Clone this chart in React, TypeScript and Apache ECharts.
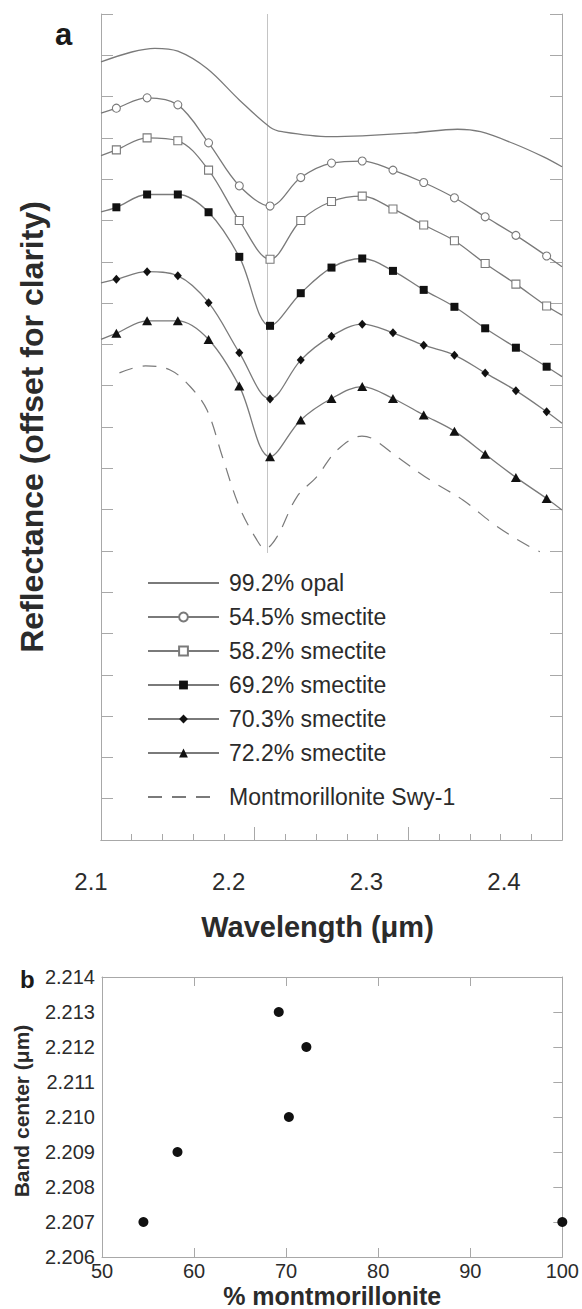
import React, { useEffect, useRef } from "react";
import * as echarts from "echarts";

const FONT = '"Liberation Sans", Arial, Helvetica, sans-serif';
const TXT = "#2b2b2b";
const AXIS = "#a8a8a8";
const LINE = "#7a7a7a";

// ---------- panel a ----------
const waveTicks = [2.1, 2.2, 2.3, 2.4];
const lineX = [2.10, 2.11, 2.13, 2.15, 2.17, 2.19, 2.21, 2.23, 2.25, 2.27, 2.29, 2.31, 2.33, 2.35, 2.37, 2.39, 2.40];

const seriesNames = [
  "99.2% opal",
  "54.5% smectite",
  "58.2% smectite",
  "69.2% smectite",
  "70.3% smectite",
  "72.2% smectite",
  "Montmorillonite Swy-1",
];

const opalX = [2.10, 2.12, 2.135, 2.15, 2.169, 2.19, 2.21, 2.218, 2.249, 2.27, 2.303, 2.332, 2.347, 2.368, 2.388, 2.40];
const opalY = [18.84, 19.08, 19.17, 19.10, 18.68, 17.92, 17.26, 17.15, 17.03, 17.05, 17.12, 17.21, 17.15, 16.87, 16.54, 16.30];

const smec545 = [17.60, 17.72, 17.97, 17.80, 16.88, 15.84, 15.35, 16.04, 16.39, 16.44, 16.22, 15.92, 15.55, 15.09, 14.64, 14.14, 13.88];
const smec582 = [16.57, 16.71, 17.00, 16.93, 16.22, 15.00, 14.06, 15.00, 15.46, 15.59, 15.28, 14.89, 14.51, 13.96, 13.46, 12.93, 12.71];
const smec692 = [15.21, 15.32, 15.63, 15.63, 15.20, 14.12, 12.45, 13.24, 13.86, 14.08, 13.78, 13.32, 12.91, 12.39, 11.92, 11.46, 11.22];
const smec703 = [13.49, 13.58, 13.76, 13.66, 13.01, 11.80, 10.68, 11.62, 12.20, 12.49, 12.28, 11.98, 11.74, 11.31, 10.88, 10.37, 10.09];
const smec722 = [12.12, 12.27, 12.57, 12.57, 12.12, 10.99, 9.28, 10.17, 10.69, 10.98, 10.69, 10.29, 9.90, 9.34, 8.78, 8.27, 7.99];

const swyX = [2.112, 2.129, 2.145, 2.158, 2.169, 2.179, 2.190, 2.2015, 2.2067, 2.2145, 2.2275, 2.2405, 2.2536, 2.2698, 2.277, 2.2926, 2.314, 2.3355, 2.3577, 2.379, 2.3856];
const swyY = [11.31, 11.48, 11.38, 10.98, 10.41, 9.28, 8.07, 7.26, 7.05, 7.34, 8.31, 8.80, 9.44, 9.78, 9.71, 9.28, 8.72, 8.23, 7.59, 7.10, 6.98];

const bandLineX = 2.208;
const bandLineYTop = 20;
const bandLineYBottom = 6.95;

// ---------- panel b ----------
const montPct = [54.5, 58.2, 69.2, 70.3, 72.2, 100];
const bandCenter = [2.207, 2.209, 2.213, 2.210, 2.212, 2.207];

function markedSeries(name: string, vals: number[], symbol: string, size: any, filled: boolean) {
  return {
    type: "line",
    name,
    xAxisIndex: 0,
    yAxisIndex: 0,
    smooth: 0.35,
    symbol,
    symbolSize: size,
    showSymbol: true,
    lineStyle: { color: LINE, width: 1.3 },
    itemStyle: filled
      ? { color: "#111", borderWidth: 0 }
      : { color: "#fff", borderColor: LINE, borderWidth: 1.1 },
    data: lineX.map((x, i) =>
      i === 0 || i === lineX.length - 1 ? { value: [x, vals[i]], symbol: "none" } : [x, vals[i]]
    ),
    z: 3,
  };
}

const noMarker = { color: "rgba(0,0,0,0)", borderColor: "rgba(0,0,0,0)", borderWidth: 0 };

export default function App() {
  const ref = useRef<HTMLDivElement>(null);
  useEffect(() => {
    if (!ref.current) return;
    const chart = echarts.init(ref.current, undefined, { renderer: "svg" });
    chart.setOption({
      animation: false,
      backgroundColor: "#fff",
      textStyle: { fontFamily: FONT },
      title: [
        { text: "a", left: 55, top: 19, padding: 0, textStyle: { fontSize: 31, fontWeight: "bold", color: "#1a1a1a", fontFamily: FONT } },
        { text: "b", left: 20, top: 967, padding: 0, textStyle: { fontSize: 24, fontWeight: "bold", color: "#1a1a1a", fontFamily: FONT } },
      ],
      grid: [
        { left: 101, top: 14, width: 461, height: 826 },
        { left: 91, top: 14, width: 413, height: 826 },
        { left: 102, top: 977, width: 461, height: 280 },
      ],
      legend: [
        {
          data: [
            { name: seriesNames[0], itemStyle: noMarker },
            ...seriesNames.slice(1, 6),
          ],
          orient: "vertical",
          left: 147,
          top: 571,
          padding: 0,
          itemWidth: 71,
          itemHeight: 11,
          itemGap: 10,
          textStyle: { fontSize: 23, lineHeight: 24, color: TXT, fontFamily: FONT, padding: [0, 0, 0, 5] },
        },
        {
          data: [{ name: seriesNames[6], itemStyle: noMarker }],
          orient: "vertical",
          left: 147,
          top: 785,
          padding: 0,
          itemWidth: 71,
          itemHeight: 11,
          textStyle: { fontSize: 23, lineHeight: 24, color: TXT, fontFamily: FONT, padding: [0, 0, 0, 5] },
        },
      ],
      xAxis: [
        {
          gridIndex: 0, type: "value", position: "bottom", min: 2.1, max: 2.4, interval: 0.1,
          axisLine: { show: true, lineStyle: { color: AXIS, width: 1 } },
          axisTick: { show: true, inside: true, length: 13, lineStyle: { color: AXIS } },
          minorTick: { show: true, splitNumber: 5, length: 6, lineStyle: { color: AXIS } },
          axisLabel: { show: false },
          splitLine: { show: false },
          name: "Wavelength (μm)", nameLocation: "middle", nameGap: 72,
          nameTextStyle: { fontSize: 29, fontWeight: "bold", color: TXT, fontFamily: FONT, padding: [0, 28, 0, 0] },
        },
        {
          gridIndex: 0, type: "value", position: "top", min: 2.1, max: 2.4,
          axisLine: { show: true, lineStyle: { color: AXIS, width: 1 } },
          axisTick: { show: false }, axisLabel: { show: false }, splitLine: { show: false },
        },
        {
          gridIndex: 1, type: "value", position: "bottom", min: 2.1, max: 2.4, interval: 0.1,
          axisLine: { show: false }, axisTick: { show: false }, splitLine: { show: false },
          axisLabel: { show: true, fontSize: 24, color: TXT, margin: 29, fontFamily: FONT, formatter: (v: number) => v.toFixed(1) },
        },
        {
          gridIndex: 2, type: "value", position: "bottom", min: 50, max: 100, interval: 10,
          axisLine: { show: true, lineStyle: { color: AXIS, width: 1 } },
          axisTick: { show: true, inside: true, length: 9, lineStyle: { color: AXIS } },
          axisLabel: { show: true, fontSize: 20, color: TXT, margin: 4, fontFamily: FONT },
          splitLine: { show: false },
          name: "% montmorillonite", nameLocation: "middle", nameGap: 26,
          nameTextStyle: { fontSize: 25, fontWeight: "bold", color: TXT, fontFamily: FONT },
        },
        {
          gridIndex: 2, type: "value", position: "top", min: 50, max: 100, interval: 10,
          axisLine: { show: true, lineStyle: { color: AXIS, width: 1 } },
          axisTick: { show: true, inside: true, length: 9, lineStyle: { color: AXIS } },
          axisLabel: { show: false }, splitLine: { show: false },
        },
      ],
      yAxis: [
        {
          gridIndex: 0, type: "value", position: "left", min: 0, max: 20, interval: 1,
          axisLine: { show: true, lineStyle: { color: AXIS, width: 1 } },
          axisTick: { show: true, inside: true, length: 12, lineStyle: { color: AXIS } },
          axisLabel: { show: false }, splitLine: { show: false },
          name: "Reflectance (offset for clarity)", nameLocation: "middle", nameGap: 53,
          nameTextStyle: { fontSize: 32, fontWeight: "bold", color: TXT, fontFamily: FONT },
        },
        {
          gridIndex: 0, type: "value", position: "right", min: 0, max: 20, interval: 1,
          axisLine: { show: true, lineStyle: { color: AXIS, width: 1 } },
          axisTick: { show: true, inside: true, length: 12, lineStyle: { color: AXIS } },
          axisLabel: { show: false }, splitLine: { show: false },
        },
        {
          gridIndex: 1, type: "value", min: 0, max: 1, show: false,
          axisLine: { show: false }, axisTick: { show: false }, axisLabel: { show: false }, splitLine: { show: false },
        },
        {
          gridIndex: 2, type: "value", position: "left", min: 2.206, max: 2.214, interval: 0.001,
          axisLine: { show: true, lineStyle: { color: AXIS, width: 1 } },
          axisTick: { show: false },
          axisLabel: { show: true, fontSize: 20, color: TXT, margin: 7, fontFamily: FONT, formatter: (v: number) => v.toFixed(3) },
          splitLine: { show: false },
          name: "Band center (μm)", nameLocation: "middle", nameGap: 70,
          nameTextStyle: { fontSize: 21, fontWeight: "bold", color: TXT, fontFamily: FONT, padding: [0, 0, 0, 12] },
        },
        {
          gridIndex: 2, type: "value", position: "right", min: 2.206, max: 2.214, interval: 0.001,
          axisLine: { show: true, lineStyle: { color: AXIS, width: 1 } },
          axisTick: { show: true, inside: true, length: 9, lineStyle: { color: AXIS } },
          axisLabel: { show: false }, splitLine: { show: false },
        },
      ],
      series: [
        {
          type: "line",
          name: seriesNames[0],
          xAxisIndex: 0,
          yAxisIndex: 0,
          smooth: 0.35,
          symbol: "none",
          lineStyle: { color: LINE, width: 1.3 },
          itemStyle: { color: LINE },
          data: opalX.map((x, i) => [x, opalY[i]]),
          z: 3,
          markLine: {
            silent: true,
            symbol: "none",
            label: { show: false },
            lineStyle: { color: "#c4c4c4", width: 1, type: "solid" },
            data: [[{ coord: [bandLineX, bandLineYTop] }, { coord: [bandLineX, bandLineYBottom] }]],
            z: 1,
          },
        },
        markedSeries(seriesNames[1], smec545, "circle", 8, false),
        markedSeries(seriesNames[2], smec582, "rect", 8, false),
        markedSeries(seriesNames[3], smec692, "rect", 8, true),
        markedSeries(seriesNames[4], smec703, "diamond", [8, 9], true),
        markedSeries(seriesNames[5], smec722, "triangle", [10, 9], true),
        {
          type: "line",
          name: seriesNames[6],
          xAxisIndex: 0,
          yAxisIndex: 0,
          smooth: 0.35,
          symbol: "none",
          lineStyle: { color: LINE, width: 1.2, type: [14, 10] },
          itemStyle: { color: LINE },
          data: swyX.map((x, i) => [x, swyY[i]]),
          z: 3,
        },
        {
          type: "scatter",
          xAxisIndex: 3,
          yAxisIndex: 3,
          symbol: "circle",
          symbolSize: 10,
          itemStyle: { color: "#111", opacity: 1 },
          data: montPct.map((x, i) => [x, bandCenter[i]]),
        },
      ],
    });
    return () => chart.dispose();
  }, []);
  return (
    <div
      ref={ref}
      style={{ position: "absolute", left: 0, top: 0, width: 582, height: 1309, background: "#fff" }}
    />
  );
}
